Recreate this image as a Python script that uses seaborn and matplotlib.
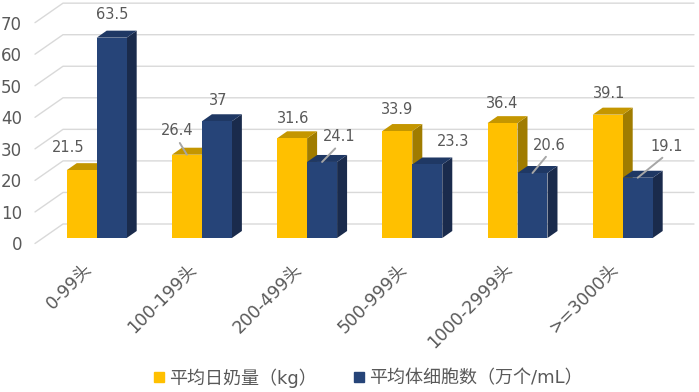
import matplotlib
matplotlib.use("Agg")
import pandas as pd
import matplotlib.pyplot as plt
from matplotlib.patches import Polygon
from matplotlib.lines import Line2D
import seaborn as sns

# data
groups = ["0-99头", "100-199头", "200-499头", "500-999头", "1000-2999头", ">=3000头"]
milk_yield = [21.5, 26.4, 31.6, 33.9, 36.4, 39.1]
scc = [63.5, 37, 24.1, 23.3, 20.6, 19.1]
series_names = ["平均日奶量（kg）", "平均体细胞数（万个/mL）"]
y_ticks = [0, 10, 20, 30, 40, 50, 60, 70]

# label placement (pixel offsets from bar top centre) and leader-line flags
milk_label_offsets = [(-14, 23), (-10, 24), (1, 20), (0, 22), (0, 20), (1, 21)]
scc_label_offsets = [(0, 23), (1, 21), (17, 25), (26, 23), (17, 28), (29, 31)]
milk_leaders = [False, True, False, False, False, False]
scc_leaders = [False, False, True, False, True, True]

colors = ["#FFC000", "#264478"]
top_colors = ["#C49600", "#1F3864"]
side_colors = ["#A07C00", "#1A2B4C"]
text_gray = "#595959"
grid_gray = "#D9D9D9"

df = pd.DataFrame({
    "group": groups * 2,
    "value": milk_yield + scc,
    "series": [series_names[0]] * len(groups) + [series_names[1]] * len(groups),
})

sns.set_style("white")
plt.rcParams["font.family"] = ["DejaVu Sans", "Noto Sans CJK SC"]

W, H = 699, 392
fig = plt.figure(figsize=(W / 100, H / 100), dpi=100)

# layout in pixels (from top-left)
x0, x1 = 44.1, 675.3        # axes left / right
y_base, ppu = 238.0, 3.155  # pixel row of value 0, pixels per unit
y_lo_px = 7                 # axes extends a bit below the bar base
ymax = 70
ylo = -y_lo_px / ppu
ax = fig.add_axes([x0 / W, (H - y_base - y_lo_px) / H,
                   (x1 - x0) / W, (ymax - ylo) * ppu / H])

sns.barplot(data=df, x="group", y="value", hue="series", palette=colors,
            width=0.57, saturation=1, errorbar=None, legend=False,
            linewidth=0, ax=ax, zorder=3)
ax.set_xlim(-0.5, 5.5)
ax.set_ylim(ylo, ymax)
for s in ax.spines.values():
    s.set_visible(False)
ax.set_xlabel("")
ax.set_ylabel("")

sx = 6 / (x1 - x0)   # data units per pixel (x)
sy = 1 / ppu         # data units per pixel (y)

# perspective gridlines (front edge -> back wall)
for v in y_ticks:
    yf = v - 5.5 * sy
    yb = v + 14 * sy
    xf = -0.5 + (35 - x0) * sx
    xb = -0.5 + (63 - x0) * sx
    xr = -0.5 + (694 - x0) * sx
    ax.plot([xf, xb, xr], [yf, yb, yb], color=grid_gray, lw=1.0,
            clip_on=False, zorder=0)

ax.set_yticks([v - 5.5 * sy for v in y_ticks], labels=[str(v) for v in y_ticks])
ax.tick_params(axis="y", length=0, pad=(x0 - 22) * 0.72, labelsize=12,
               labelcolor=text_gray)

ax.set_xticks([i - 8 * sx for i in range(len(groups))], labels=groups)
ax.tick_params(axis="x", length=0, pad=21 * 0.72, labelsize=12.5,
               labelcolor=text_gray)
for lab in ax.get_xticklabels():
    lab.set_rotation(45)
    lab.set_ha("right")
    lab.set_va("center")
    lab.set_rotation_mode("anchor")

# 3D faces of the bars
ddx, ddy = 10 * sx, 7 * sy
n = len(groups)
for i, bar in enumerate(ax.patches):
    k = i // n
    x, w, h = bar.get_x(), bar.get_width(), bar.get_height()
    top = [(x, h), (x + w, h), (x + w + ddx, h + ddy), (x + ddx, h + ddy)]
    side = [(x + w, 0), (x + w + ddx, ddy), (x + w + ddx, h + ddy), (x + w, h)]
    ax.add_patch(Polygon(side, closed=True, facecolor=side_colors[k],
                         edgecolor="none", zorder=1))
    ax.add_patch(Polygon(top, closed=True, facecolor=top_colors[k],
                         edgecolor="none", zorder=2))

# data labels
for i, bar in enumerate(ax.patches[:2 * n]):
    k, j = divmod(i, n)
    vals = [milk_yield, scc][k]
    off = [milk_label_offsets, scc_label_offsets][k][j]
    lead = [milk_leaders, scc_leaders][k][j]
    xc = bar.get_x() + bar.get_width() / 2
    props = None
    if lead:
        props = dict(arrowstyle="-", color="#A6A6A6", lw=1.4, patchA=None,
                     relpos=(0.5, 0), shrinkA=4, shrinkB=0)
    ax.annotate(f"{vals[j]:g}", xy=(xc, vals[j]), xytext=off,
                textcoords="offset pixels", ha="center", va="center",
                fontsize=10.5, color=text_gray, arrowprops=props,
                annotation_clip=False, zorder=5)

handles = [Line2D([], [], marker="s", linestyle="none", markersize=6.5,
                  markerfacecolor=c, markeredgecolor=c) for c in colors]
fig.legend(handles, series_names, loc="center", bbox_to_anchor=(368 / W, 14 / H),
           ncol=2, frameon=False, fontsize=13, handletextpad=0.2,
           handlelength=0.7, columnspacing=2.0, labelcolor=text_gray)

fig.savefig("out.png", dpi=100)
